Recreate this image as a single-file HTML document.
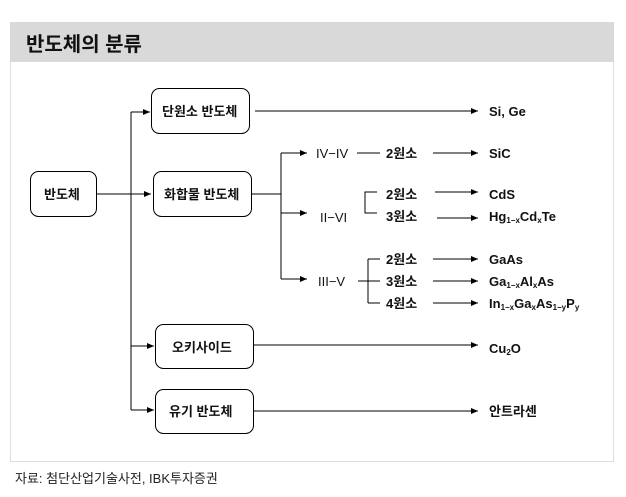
<!DOCTYPE html>
<html><head><meta charset="utf-8"><style>
body{margin:0;width:626px;height:497px;background:#fff;position:relative;font-family:"Liberation Sans","Noto Sans CJK KR",sans-serif;overflow:hidden}
</style></head><body>
<svg width="626" height="497" style="position:absolute;left:0;top:0" font-family="Liberation Sans, Noto Sans CJK KR, sans-serif">
<defs><marker id="a" markerWidth="8" markerHeight="8" refX="7" refY="4" orient="auto" markerUnits="userSpaceOnUse"><path d="M0,1 L7,4 L0,7z" fill="#000"/></marker></defs>
<rect x="10.5" y="22.5" width="603" height="439" fill="#fff" stroke="#ddd"/>
<rect x="10" y="22" width="604" height="40" fill="#d9d9d9"/>
<text x="26" y="51" font-size="20" font-weight="bold" fill="#111">반도체의 분류</text>
<g fill="#fff" stroke="#000" stroke-width="1">
<rect x="30.5" y="171.5" width="66" height="45" rx="8"/>
<rect x="151.5" y="88.5" width="98" height="45" rx="8"/>
<rect x="153.5" y="171.5" width="98" height="45" rx="8"/>
<rect x="155.5" y="324.5" width="98" height="44" rx="8"/>
<rect x="155.5" y="389.5" width="98" height="44" rx="8"/>
</g>
<g stroke="#000" stroke-width="1" fill="none">
<path d="M96,194H151" marker-end="url(#a)"/>
<path d="M131,112V410"/>
<path d="M131,112H150" marker-end="url(#a)"/>
<path d="M131,346H154" marker-end="url(#a)"/>
<path d="M131,410H154" marker-end="url(#a)"/>
<path d="M255,111H478" marker-end="url(#a)"/>
<path d="M254,345H478" marker-end="url(#a)"/>
<path d="M254,411H478" marker-end="url(#a)"/>
<path d="M252,194H281"/>
<path d="M281,153V279"/>
<path d="M281,153H307" marker-end="url(#a)"/>
<path d="M281,213H307" marker-end="url(#a)"/>
<path d="M281,279H307" marker-end="url(#a)"/>
<path d="M357,153H380"/>
<path d="M433,153H478" marker-end="url(#a)"/>
<path d="M377,192H365V213H377"/>
<path d="M435,192H478" marker-end="url(#a)"/>
<path d="M437,218H478" marker-end="url(#a)"/>
<path d="M358,281H380M368,259V303M368,259H380M368,303H380"/>
<path d="M433,259H478" marker-end="url(#a)"/>
<path d="M433,281H478" marker-end="url(#a)"/>
<path d="M433,303H478" marker-end="url(#a)"/>
</g>
<g font-size="13" font-weight="bold" fill="#111">
<text x="44" y="199">반도체</text>
<text x="162" y="116">단원소 반도체</text>
<text x="164" y="199">화합물 반도체</text>
<text x="172" y="352">오키사이드</text>
<text x="169" y="416">유기 반도체</text>
<text x="489" y="116">Si, Ge</text>
<text x="489" y="158">SiC</text>
<text x="489" y="199">CdS</text>
<text x="489" y="221">Hg<tspan font-size="8" dy="2">1−x</tspan><tspan dy="-2">Cd</tspan><tspan font-size="8" dy="2">x</tspan><tspan dy="-2">Te</tspan></text>
<text x="489" y="264">GaAs</text>
<text x="489" y="286">Ga<tspan font-size="8" dy="2">1−x</tspan><tspan dy="-2">Al</tspan><tspan font-size="8" dy="2">x</tspan><tspan dy="-2">As</tspan></text>
<text x="489" y="308">In<tspan font-size="8" dy="2">1−x</tspan><tspan dy="-2">Ga</tspan><tspan font-size="8" dy="2">x</tspan><tspan dy="-2">As</tspan><tspan font-size="8" dy="2">1−y</tspan><tspan dy="-2">P</tspan><tspan font-size="8" dy="2">y</tspan></text>
<text x="489" y="353">Cu<tspan font-size="8" dy="2">2</tspan><tspan dy="-2">O</tspan></text>
<text x="489" y="416">안트라센</text>
</g>
<g font-size="13" fill="#111">
<text x="316" y="158">IV−IV</text>
<text x="320" y="222">II−VI</text>
<text x="318" y="286">III−V</text>
</g>
<g font-size="13" font-weight="bold" fill="#111">
<text x="386" y="158">2원소</text>
<text x="386" y="199">2원소</text>
<text x="386" y="221">3원소</text>
<text x="386" y="264">2원소</text>
<text x="386" y="286">3원소</text>
<text x="386" y="308">4원소</text>
</g>
<text x="15" y="483" font-size="13" fill="#222">자료: 첨단산업기술사전, IBK투자증권</text>
</svg>
</body></html>
